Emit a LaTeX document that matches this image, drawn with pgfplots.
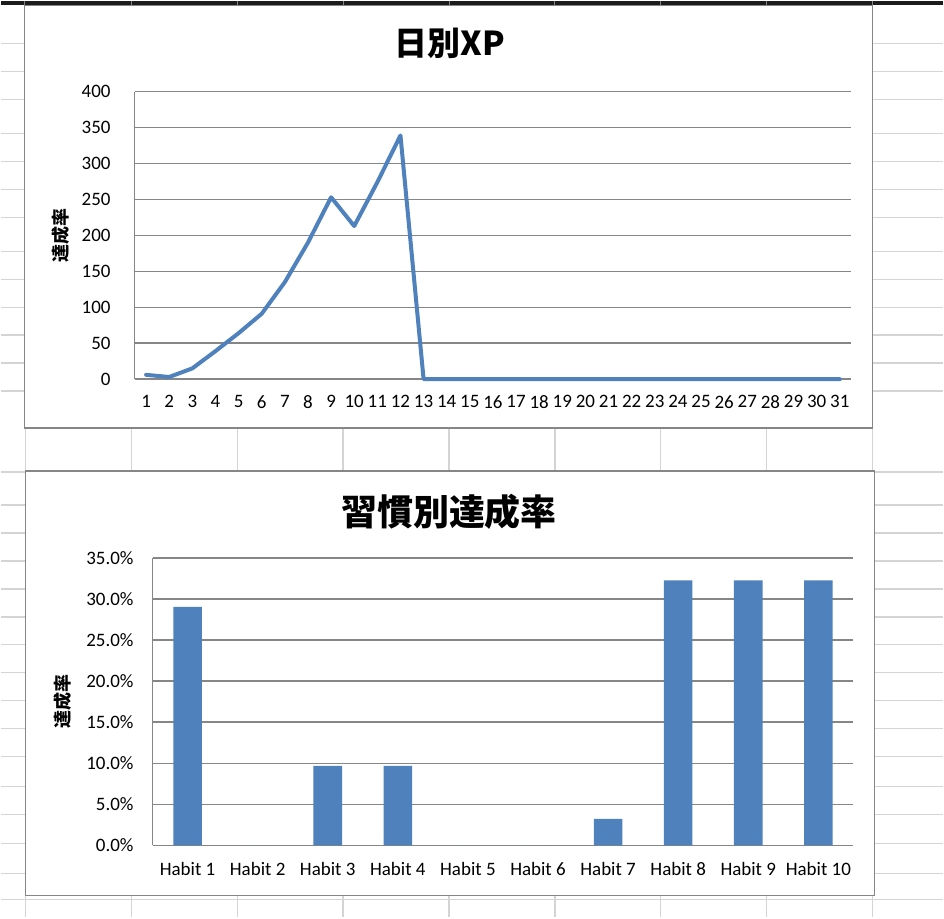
\documentclass[border=0pt]{standalone}
\usepackage{fontspec}
\setmainfont{Carlito}
\newfontfamily\cjk{Noto Sans CJK JP}
\usepackage{pgfplots}
\usepackage{pgfplotstable}
\pgfplotsset{compat=1.18}

\definecolor{xlblue}{HTML}{4F81BD}
\definecolor{xlgrid}{HTML}{868686}
\definecolor{cellline}{HTML}{D4D4D4}
\definecolor{header}{HTML}{1C1C1C}

% daily XP
\pgfplotstableread{
day xp
1 6
2 3
3 15
4 39
5 64
6 91
7 135
8 190
9 253
10 213
11 274
12 339
13 0
14 0
15 0
16 0
17 0
18 0
19 0
20 0
21 0
22 0
23 0
24 0
25 0
26 0
27 0
28 0
29 0
30 0
31 0
}\xpdata

% completion rate per habit, percent
\pgfplotstableread{
idx rate
1 29.03
2 0
3 9.68
4 9.68
5 0
6 0
7 3.23
8 32.26
9 32.26
10 32.26
}\ratedata

\pgfplotsset{
  xlstyle/.style={
    scale only axis,
    anchor=south west,
    axis x line*=bottom,
    axis y line*=left,
    axis line style={xlgrid, line width=0.75pt, -},
    ymajorgrids,
    major grid style={xlgrid, line width=0.75pt},
    major tick length=0pt,
    tick style={draw=none},
    tick label style={font=\fontsize{9.5}{11}\selectfont},
    /pgf/number format/assume math mode=true,
    ylabel style={rotate=0, anchor=center, font=\cjk\bfseries\fontsize{9}{10}\selectfont},
    clip=false,
  },
}

\begin{document}
\begin{tikzpicture}[x=0.5pt,y=-0.5pt]
% spreadsheet behind the charts
\fill[white] (0,0) rectangle (944,918);
\foreach \r in {43,71,99,133,161,189,217,251,279,307,335,363,391,472,505,533,561,589,617,645,673,701,729,757,787,815,844,874,900}
  \draw[cellline, line width=0.75pt] (0,\r) -- (944,\r);
\foreach \c in {25,131,237,343,449,555,661,767,873}
  \draw[cellline, line width=0.75pt] (\c,0) -- (\c,918);
\fill[header] (0,0) rectangle (944,4);
\foreach \c in {24,131,237,343,449,555,661,767,873}
  \draw[xlgrid, line width=0.5pt] (\c,0) -- (\c,4);

% chart frames
\draw[xlgrid, line width=0.75pt, fill=white] (24,5) rectangle (873,428);
\draw[xlgrid, line width=0.75pt, fill=white] (25,471) rectangle (875,896);

\node[font=\cjk\bfseries\fontsize{16.5}{18}\selectfont] at (450,43) {日別XP};
\node[font=\cjk\bfseries\fontsize{18}{20}\selectfont] at (449,512) {習慣別達成率};

% top: daily XP
\begin{axis}[
  xlstyle,
  at={(67pt,-189.5pt)},
  width=359pt, height=144pt,
  xmin=0.5, xmax=31.5,
  ymin=0, ymax=400,
  xtick={1,...,31},
  ytick={0,50,...,400},
  xticklabel style={yshift=-4.5pt},
  yticklabel style={xshift=-8.5pt},
  ylabel={達成率},
  ylabel style={at={(axis description cs:-0.103,0.5)}},
]
\addplot[xlblue, line width=2pt, line join=round, line cap=round] table[x=day, y=xp] {\xpdata};
\end{axis}

% bottom: completion rate by habit
\begin{axis}[
  xlstyle,
  at={(76pt,-423pt)},
  width=351pt, height=144pt,
  ybar,
  bar width=14.3pt,
  xmin=0.5, xmax=10.5,
  ymin=0, ymax=35,
  xtick={1,...,10},
  xticklabels={Habit 1,Habit 2,Habit 3,Habit 4,Habit 5,Habit 6,Habit 7,Habit 8,Habit 9,Habit 10},
  ytick={0,5,...,35},
  yticklabel={\pgfmathprintnumber[fixed,fixed zerofill,precision=1]{\tick}\%},
  xticklabel style={yshift=-5pt},
  yticklabel style={xshift=-6pt},
  ylabel={達成率},
  ylabel style={at={(axis description cs:-0.128,0.5)}},
]
\addplot[fill=xlblue, draw=none] table[x=idx, y=rate] {\ratedata};
\end{axis}
\end{tikzpicture}
\end{document}
